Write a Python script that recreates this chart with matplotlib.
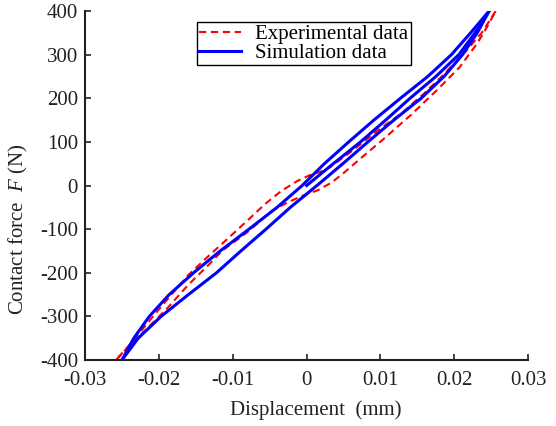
import matplotlib
matplotlib.use("Agg")
import matplotlib.pyplot as plt

plt.rcParams["font.family"] = ["Liberation Serif", "DejaVu Serif"]
plt.rcParams["mathtext.fontset"] = "custom"
plt.rcParams["mathtext.it"] = "Liberation Serif:italic"
plt.rcParams["mathtext.rm"] = "Liberation Serif"
plt.rcParams["axes.unicode_minus"] = False

# Simulation: initial loading, unloading (upper branch), reloading (lower branch)
sim_init_x = [0.0, 0.0036, 0.0073, 0.0107, 0.0140, 0.0175, 0.0206, 0.0228, 0.0247]
sim_init_y = [0, 50, 100, 150, 200, 250, 300, 350, 400]

sim_up_x = [0.0247, 0.0222, 0.0196, 0.0164, 0.0127, 0.0091, 0.0057, 0.0024,
            -0.0006, -0.0040, -0.0078, -0.0117, -0.0153, -0.0186, -0.0213,
            -0.0234, -0.0250]
sim_up_y = [400, 350, 300, 250, 200, 150, 100, 50, 0, -50, -100, -150, -200,
            -250, -300, -350, -400]

sim_low_x = [-0.0250, -0.0228, -0.0197, -0.0160, -0.0122, -0.0089, -0.0055,
             -0.0022, 0.0014, 0.0049, 0.0083, 0.0118, 0.0155, 0.0186, 0.0211,
             0.0231, 0.0247]
sim_low_y = [-400, -350, -300, -250, -200, -150, -100, -50, 0, 50, 100, 150,
             200, 250, 300, 350, 400]

# Experiment: unloading and loading branches
exp_up_x = [0.0256, 0.0237, 0.0214, 0.0183, 0.0159, 0.0128, 0.0096, 0.0062,
            0.0031, 0.0018, 0.0006, -0.0012, -0.0034, -0.0056, -0.0080,
            -0.0107, -0.0135, -0.0160, -0.0183, -0.0208, -0.0232, -0.0258]
exp_up_y = [400, 350, 305, 250, 211, 165, 126, 80, 41, 31, 25, 11, -12, -42,
            -80, -122, -165, -205, -250, -300, -350, -400]

exp_low_x = [-0.0258, -0.0246, -0.0219, -0.0189, -0.0161, -0.0131, -0.0114,
             -0.0081, -0.0046, -0.0026, -0.0005, 0.0015, 0.0034, 0.0051,
             0.0073, 0.0103, 0.0140, 0.0176, 0.0207, 0.0231, 0.0243, 0.0256]
exp_low_y = [-400, -378, -333, -282, -229, -179, -149, -108, -57, -39, -23,
             -11, 7, 30, 62, 105, 160, 218, 271, 326, 360, 400]

x_ticks = [-0.03, -0.02, -0.01, 0, 0.01, 0.02, 0.03]
x_tick_labels = ["-0.03", "-0.02", "-0.01", "0", "0.01", "0.02", "0.03"]
y_ticks = [-400, -300, -200, -100, 0, 100, 200, 300, 400]

FS = 15
ink = "#222222"

fig = plt.figure(figsize=(5.56, 4.26), dpi=100)
ax = fig.add_axes([0.153, 0.155, 0.797, 0.819])

red_kw = dict(color="#ff0000", linestyle=(0, (3.5, 2.2)), linewidth=1.5)
blue_kw = dict(color="#0000ff", linewidth=2.2)

ax.plot(exp_up_x, exp_up_y, label="Experimental data", **red_kw)
ax.plot(exp_low_x, exp_low_y, **red_kw)
ax.plot(sim_init_x, sim_init_y, label="Simulation data", **blue_kw)
ax.plot(sim_up_x, sim_up_y, **blue_kw)
ax.plot(sim_low_x, sim_low_y, **blue_kw)

ax.set_xlim(-0.03, 0.03)
ax.set_ylim(-400, 400)
ax.set_xticks(x_ticks)
ax.set_xticklabels(x_tick_labels)
ax.set_yticks(y_ticks)

for side in ("top", "right"):
    ax.spines[side].set_visible(False)
for side in ("left", "bottom"):
    ax.spines[side].set_linewidth(1.5)
    ax.spines[side].set_color(ink)
ax.tick_params(direction="in", length=4, width=1.2, labelsize=FS, colors=ink)
ax.tick_params(axis="x", pad=8)
ax.tick_params(axis="y", pad=5)

ax.set_xlabel("Displacement  (mm)", fontsize=FS, color=ink)
ax.xaxis.set_label_coords(0.52, -0.115)
ax.set_ylabel("Contact force  $F$ (N)", fontsize=FS, color=ink)
ax.yaxis.set_label_coords(-0.125, 0.375)

leg = ax.legend(loc="upper left", bbox_to_anchor=(0.252, 0.968),
                borderaxespad=0, fontsize=FS, handlelength=2.0,
                handletextpad=0.7, borderpad=0.12, labelspacing=-0.05,
                fancybox=False, framealpha=1)
leg.get_frame().set_edgecolor("black")
leg.get_frame().set_linewidth(1.0)

fig.savefig("out.png", dpi=100, facecolor="white")
